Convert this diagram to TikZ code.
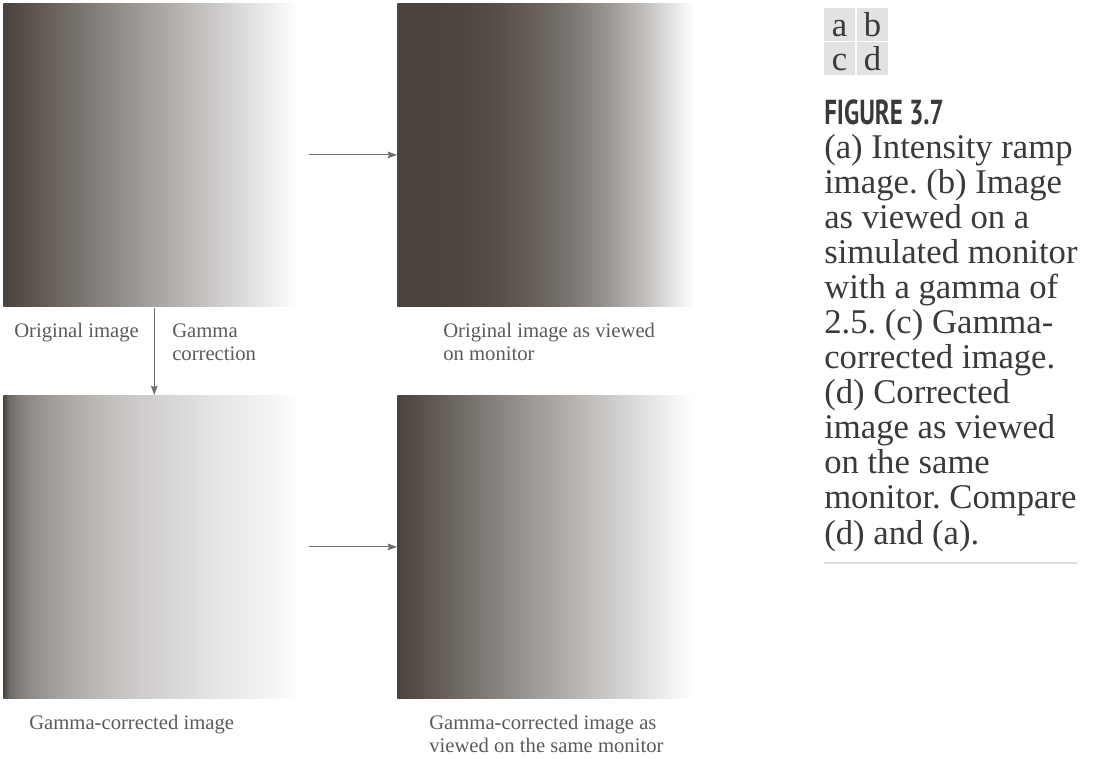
\documentclass[tikz,border=0pt]{standalone}
\usepackage{fontspec}
\usepackage{graphicx}
\setmainfont{Liberation Serif}
\newfontfamily\figfont[FakeStretch=0.72]{PT Sans}
\usetikzlibrary{arrows.meta}
% (a) linear ramp
\pgfdeclarehorizontalshading{rampA}{100bp}{%
rgb(0bp)=(.29,.26,.235); rgb(25bp)=(.29,.26,.235);
rgb(30bp)=(.363,.336,.314); rgb(35bp)=(.436,.412,.393);
rgb(40bp)=(.51,.489,.472); rgb(45bp)=(.583,.565,.55);
rgb(50bp)=(.651,.637,.625); rgb(55bp)=(.725,.714,.705);
rgb(60bp)=(.798,.79,.783); rgb(65bp)=(.872,.867,.863);
rgb(70bp)=(.945,.943,.941); rgb(74bp)=(1,1,1); rgb(100bp)=(1,1,1)}
% (b) gamma 2.5 applied
\pgfdeclarehorizontalshading{rampB}{100bp}{%
rgb(0bp)=(.29,.26,.235); rgb(25bp)=(.29,.26,.235);
rgb(30bp)=(.293,.263,.238); rgb(35bp)=(.303,.274,.25);
rgb(40bp)=(.328,.299,.276); rgb(45bp)=(.368,.341,.319);
rgb(50bp)=(.427,.403,.383); rgb(55bp)=(.506,.485,.468);
rgb(60bp)=(.608,.592,.578); rgb(65bp)=(.731,.72,.711);
rgb(70bp)=(.879,.874,.87); rgb(74bp)=(1,1,1); rgb(100bp)=(1,1,1)}
% (c) gamma corrected
\pgfdeclarehorizontalshading{rampC}{100bp}{%
rgb(0bp)=(.29,.26,.235); rgb(25bp)=(.29,.26,.235);
rgb(26bp)=(.441,.418,.398); rgb(27.5bp)=(.509,.488,.471);
rgb(30bp)=(.574,.556,.541); rgb(35bp)=(.663,.649,.637);
rgb(40bp)=(.728,.717,.707); rgb(45bp)=(.784,.775,.767);
rgb(50bp)=(.826,.818,.812); rgb(55bp)=(.864,.858,.854);
rgb(60bp)=(.9,.896,.893); rgb(65bp)=(.934,.931,.929);
rgb(70bp)=(.964,.963,.962); rgb(74bp)=(1,1,1); rgb(100bp)=(1,1,1)}
\definecolor{lab}{HTML}{5A5A5A}
\definecolor{cap}{HTML}{3A3A3A}
\definecolor{arrc}{HTML}{6E6E6E}
\definecolor{cell}{HTML}{E2E2E2}
\definecolor{rulec}{HTML}{DDDDDD}
\begin{document}
\begin{tikzpicture}[x=0.75pt,y=-0.75pt,
  img/.style={shade, draw=none, inner sep=0pt, minimum width=226.5pt, minimum height=227.5pt, anchor=north west},
  conn/.style={draw=arrc, line width=0.8pt, -{Stealth[length=7pt,width=5pt,inset=1pt]}},
  lbl/.style={font=\fontsize{15.5}{17.25}\selectfont, text=lab, inner sep=0pt, anchor=base west, align=left},
  captext/.style={font=\frenchspacing\fontsize{26}{26.3}\selectfont, text=cap, inner sep=0pt, anchor=base west, align=left},
  cellbox/.style={fill=cell, inner sep=0pt, minimum width=23.25pt, minimum height=24.75pt, text height=18pt, text depth=0pt, font=\fontsize{26}{26}\selectfont, text=cap}]
\useasboundingbox (0,0) rectangle (1099,758);
\node[img, shading=rampA] (imgA) at (3,3) {};
\node[img, shading=rampB] (imgB) at (397,3) {};
\node[img, shading=rampC] (imgC) at (3,395) {};
\node[img, shading=rampA] (imgD) at (397,395) {};
\draw[conn] ([xshift=2.25pt]imgA.east) -- (imgB.west);
\draw[conn] ([xshift=2.25pt]imgC.east) -- (imgD.west);
\draw[conn] ([yshift=-0.75pt]imgA.south) -- (imgC.north);
\node[lbl] (lA) at (14,337) {Original image};
\node[lbl] (lG) at (172,360) {Gamma\\correction};
\node[lbl] (lB) at (443,360) {Original image as viewed\\on monitor};
\node[lbl] (lC) at (29,729) {Gamma-corrected image};
\node[lbl] (lD) at (429,752) {Gamma-corrected image as\\viewed on the same monitor};
\node[cellbox] (ca) at (839.5,24.5) {a};
\node[cellbox] (cb) at (872.5,24.5) {b};
\node[cellbox] (cc) at (839.5,58.5) {c};
\node[cellbox] (cd) at (872.5,58.5) {d};
\node[anchor=base west, inner sep=0pt, text=cap, font=\figfont\bfseries\fontsize{26}{26}\selectfont] (fig) at (824,124) {FIGURE 3.7};
\node[captext] (cap) at (824,544) {(a) Intensity ramp\\image. (b) Image\\as viewed on a\\simulated monitor\\with a gamma of\\2.5. (c) Gamma-\\corrected image.\\(d) Corrected\\image as viewed\\on the same\\monitor. Compare\\(d) and (a).};
\coordinate (r1) at (824,563);
\coordinate (r2) at (1077,563);
\draw[rulec, line width=1.1pt] (r1) -- (r2);
\end{tikzpicture}
\end{document}
